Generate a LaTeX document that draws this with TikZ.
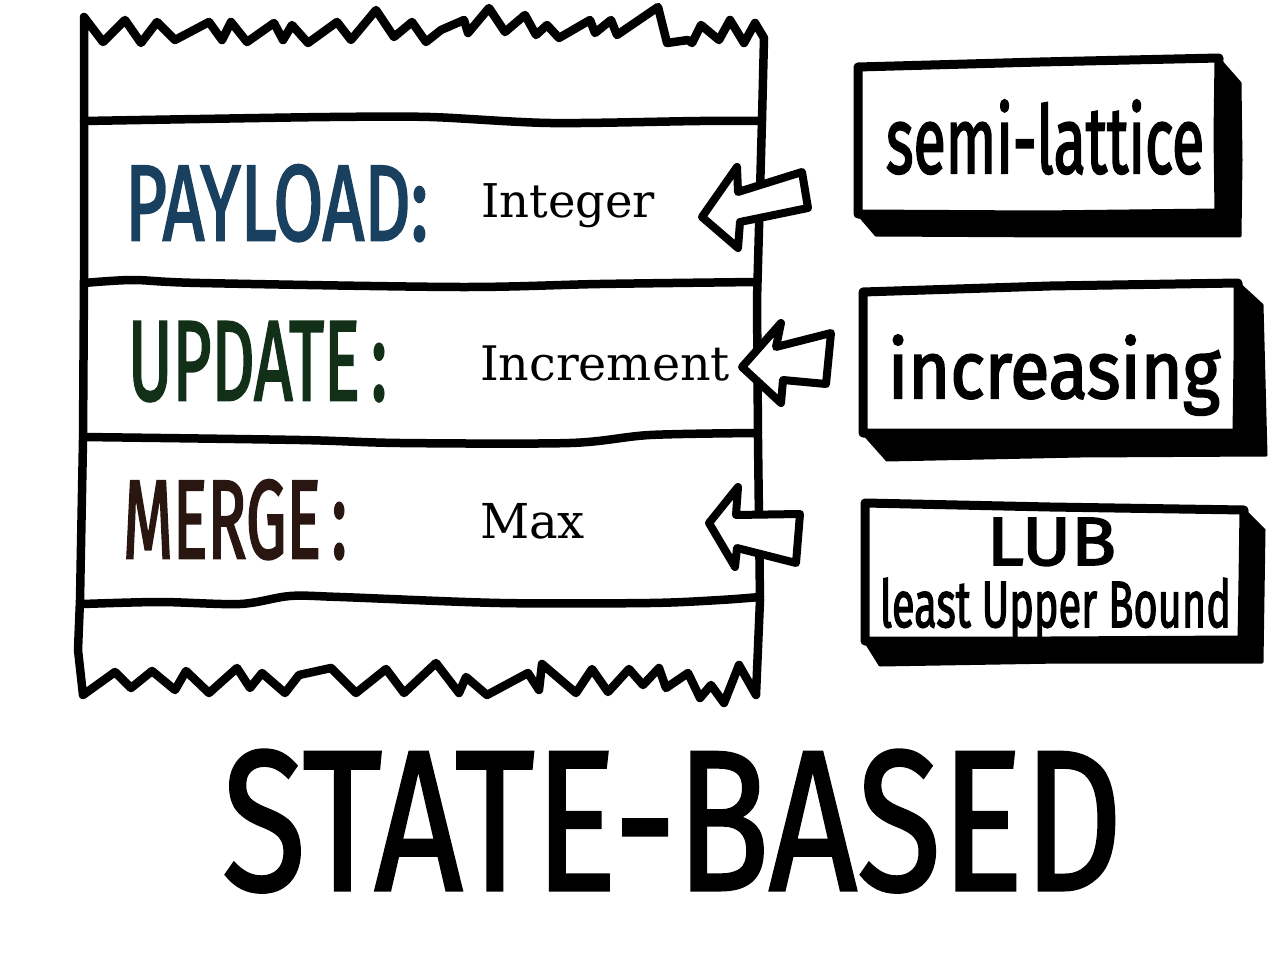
\documentclass[tikz,border=0pt]{standalone}
\usepackage{fontspec}
\usepackage{graphicx}
\newfontfamily\handfont[FakeBold=2.5]{Fira Sans}
\newfontfamily\titlefont[FakeBold=1.5]{Fira Sans}
\newfontfamily\typefont{DejaVu Serif}
\definecolor{payloadblue}{RGB}{26,64,96}
\definecolor{updategreen}{RGB}{18,48,24}
\definecolor{mergebrown}{RGB}{42,22,16}
\tikzset{
  sketch/.style={line width=8.5pt, line join=round, line cap=round, draw=black},
  blockarrow/.style={sketch, line width=8pt, fill=white},
  shadowpoly/.style={fill=black, draw=black, line width=3pt, line join=round},
  frontbox/.style={sketch, line width=9pt, fill=white},
  txt/.style={inner sep=0pt, outer sep=0pt, anchor=base west},
}
\begin{document}
\begin{tikzpicture}[x=1pt,y=-1pt]
\useasboundingbox (0,0) rectangle (1280,960);

% ---------- paper strip ----------
\draw[sketch]
  (84,17) -- (103,42) -- (125,20) -- (141,43) -- (157,22) -- (175,40) -- (209,22) -- (222,40)
  -- (231,22) -- (247,42) -- (274,23) -- (283,40) -- (292,25) -- (308,43) -- (337,22) -- (351,40)
  -- (376,10) -- (394,37) -- (412,22) -- (426,42) -- (441,30) -- (464,20) -- (468,33) -- (489,8)
  -- (505,32) -- (525,15) -- (536,35) -- (547,25) -- (559,38) -- (590,20) -- (595,33) -- (611,20)
  -- (617,35) -- (658,7) -- (667,43) -- (688,40) -- (692,43) -- (701,25) -- (719,40) -- (730,20)
  -- (744,43) -- (755,23) -- (764,38)
  -- (762,120) -- (757,300) -- (758,440) -- (760,600) -- (756,695)
  -- (739,665) -- (724,703) -- (711,685) -- (700,698) -- (688,673) -- (666,688) -- (659,668)
  -- (643,685) -- (629,669) -- (608,692) -- (592,669) -- (576,693) -- (542,664) -- (539,690)
  -- (528,673) -- (487,695) -- (466,677) -- (459,693) -- (436,663) -- (404,693) -- (386,669)
  -- (356,693) -- (331,668) -- (299,675) -- (285,693) -- (262,673) -- (250,688) -- (237,668)
  -- (209,693) -- (186,671) -- (175,690) -- (152,671) -- (131,688) -- (115,672) -- (83,695)
  -- (78,650) -- (80,600) -- (83,440) -- (84,280) -- (84,120) -- cycle;

% row separators
\draw[sketch] plot[smooth] coordinates {(84,121) (200,119) (330,117) (430,117) (550,123) (700,121) (762,121)};
\draw[sketch] plot[smooth] coordinates {(84,283) (133,280) (200,283) (460,287) (600,284) (757,282)};
\draw[sketch] plot[smooth] coordinates {(83,437) (300,440) (400,443) (570,443) (650,435) (758,433)};
\draw[sketch] plot[smooth] coordinates {(83,604) (160,602) (240,604) (290,596) (340,597) (500,603) (650,603) (720,600) (760,597)};

% ---------- row labels ----------
\node[txt, text=payloadblue] (payload) at (125,240) {\resizebox{303pt}{75pt}{\handfont PAYLOAD:}};
\node[txt, text=updategreen] (update) at (128,400) {\resizebox{259pt}{78pt}{\handfont UPDATE\,:}};
\node[txt, text=mergebrown] (merge) at (123,558) {\resizebox{224pt}{78pt}{\handfont MERGE\,:}};

\node[txt] (integer) at (481,218) {\resizebox{174pt}{!}{\typefont Integer}};
\node[txt] (increment) at (480,380) {\resizebox{250pt}{!}{\typefont Increment}};
\node[txt] (max) at (480,538) {\resizebox{105pt}{!}{\typefont Max}};

% ---------- arrows ----------
\draw[blockarrow] (702,217) -- (737,167) -- (738,192) -- (802,172) -- (808,208) -- (740,222) -- (738,248) -- cycle;
\draw[blockarrow] (742,367) -- (781,323) -- (776,347) -- (831,333) -- (826,384) -- (783,380) -- (781,403) -- cycle;
\draw[blockarrow] (709,523) -- (738,487) -- (736,515) -- (800,514) -- (796,563) -- (737,548) -- (735,567) -- cycle;

% ---------- right boxes ----------
\fill[shadowpoly] (1218,58) -- (1240,83) -- (1241,160) -- (1240,236) -- (1060,236) -- (876,235) -- (858,214) -- cycle;
\draw[frontbox] (858,67) -- (1040,62) -- (1219,58) -- (1218,135) -- (1219,213) -- (1040,215) -- (858,214) -- cycle;
\node[txt] (semi) at (886,173) {\resizebox{318pt}{73pt}{\handfont semi-lattice}};

\fill[shadowpoly] (1238,283) -- (1262,305) -- (1266,455) -- (1080,456) -- (887,460) -- (863,433) -- cycle;
\draw[frontbox] (863,292) -- (1050,286) -- (1238,283) -- (1238,360) -- (1237,433) -- (1050,433) -- (863,433) -- cycle;
\node[txt] (incr) at (888,398) {\resizebox{332pt}{63pt}{\handfont increasing}};

\fill[shadowpoly] (1244,510) -- (1264,530) -- (1262,662) -- (1060,662) -- (880,665) -- (865,641) -- cycle;
\draw[frontbox] (865,503) -- (1050,507) -- (1244,510) -- (1243,580) -- (1242,640) -- (1050,641) -- (865,641) -- cycle;
\node[txt] (lub) at (987,565) {\resizebox{129pt}{47pt}{\handfont LUB}};
\node[txt] (least) at (880,627) {\resizebox{351pt}{49pt}{\handfont least Upper Bound}};

% ---------- title ----------
\node[txt] (title) at (222,890) {\resizebox{900pt}{140pt}{\titlefont STATE-BASED}};
\end{tikzpicture}
\end{document}
